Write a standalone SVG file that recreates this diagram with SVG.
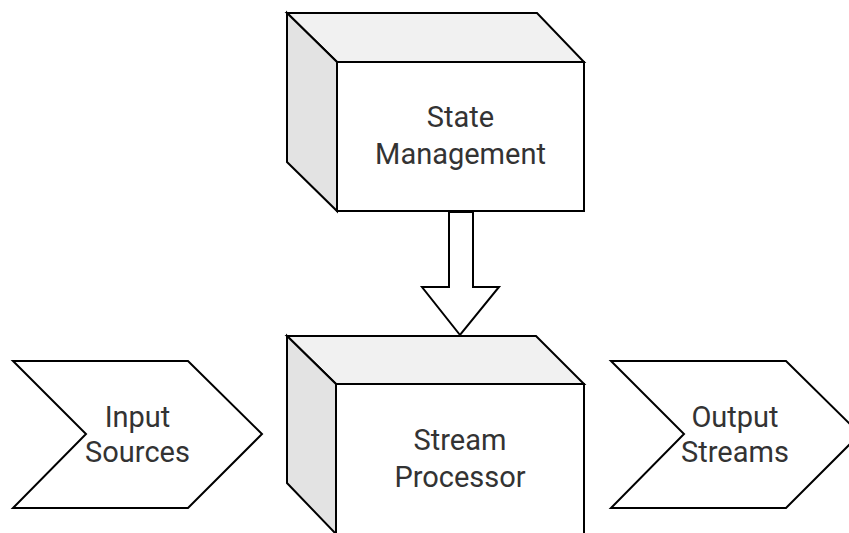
<svg xmlns="http://www.w3.org/2000/svg" width="849" height="533" viewBox="0 0 849 533">
<style>
.s{stroke:#000;stroke-width:2;stroke-linejoin:miter}
.front{fill:#fff}
.top{fill:#f1f1f1}
.side{fill:#e3e3e3}
.t{font-family:Roboto,"Liberation Sans",sans-serif;font-size:29px;fill:#333;text-anchor:middle}
</style>
<rect width="849" height="533" fill="#fff"/>
<g id="state-management">
<polygon class="s top" points="287,13 537,13 584,62 337,62"/>
<polygon class="s side" points="287,13 337,62 337,211 287,162"/>
<rect class="s front" x="337" y="62" width="247" height="149"/>
<text class="t" x="460.5" y="127">State</text>
<text class="t" x="460.5" y="164">Management</text>
</g>
<g id="stream-processor">
<polygon class="s top" points="287,336 536,336 584,384 336,384"/>
<polygon class="s side" points="287,336 336,384 336,534 287,483"/>
<rect class="s front" x="336" y="384" width="248" height="150"/>
<text class="t" x="460" y="450">Stream</text>
<text class="t" x="460" y="487">Processor</text>
</g>
<g id="input-sources">
<polygon class="s front" points="13,361 188,361 262,434 188,508 13,508 86,434"/>
<text class="t" x="137.5" y="427">Input</text>
<text class="t" x="137.5" y="462">Sources</text>
</g>
<g id="output-streams">
<polygon class="s front" points="611,361 786,361 860,434 786,508 611,508 684,434"/>
<text class="t" x="735" y="427">Output</text>
<text class="t" x="735" y="462">Streams</text>
</g>
<g id="connectors">
<polygon class="s front" points="449,212 473,212 473,287 499,287 460,335 422,287 449,287"/>
</g>
</svg>
